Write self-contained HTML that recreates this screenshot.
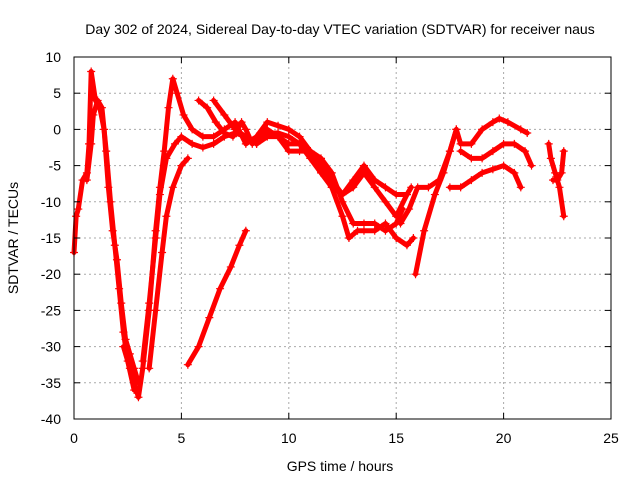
<!DOCTYPE html>
<html><head><meta charset="utf-8"><style>
body{margin:0;background:#fff}
svg{font-family:"Liberation Sans",sans-serif;font-size:14px}
</style></head><body>
<svg id="chart" width="640" height="480" viewBox="0 0 640 480">
<text x="340" y="34" text-anchor="middle" font-size="14">Day 302 of 2024, Sidereal Day-to-day VTEC variation (SDTVAR) for receiver naus</text>
<text x="340" y="471" text-anchor="middle">GPS time / hours</text>
<text transform="translate(18,238) rotate(-90)" text-anchor="middle">SDTVAR / TECUs</text>
<g id="grid"></g><g id="series"></g><g id="axes"></g>
</svg>
<script>
const xTicks=[0,5,10,15,20,25];
const yTicks=[10,5,0,-5,-10,-15,-20,-25,-30,-35,-40];
const track1=[[2.3,-30],[2.6,-33],[2.9,-36],[3.0,-37],[3.2,-33],[3.5,-25],[3.8,-14],[4.0,-8],[4.2,-3],[4.4,3],[4.6,7],[4.8,5],[5.1,2],[5.5,0],[6,-1],[6.5,-1],[7,0],[7.5,1],[8,-2],[8.5,-1],[9,1],[9.5,0.5],[10,0],[10.5,-1],[11,-3],[11.5,-5],[12,-7],[12.5,-9],[13,-8],[13.5,-6],[14,-8],[14.5,-10],[15,-12],[15.5,-9],[15.7,-8]];
const track2=[[3.2,-32],[3.5,-24],[3.8,-15],[4.0,-9],[4.3,-4],[4.7,-2],[5,-1],[5.5,-2],[6,-2.5],[6.5,-2],[7,-1],[7.5,-0.5],[8,-1],[8.5,-2],[9,-1],[9.5,-1],[10,-3],[10.5,-3],[11,-3],[11.5,-4],[12,-6],[12.5,-10],[13,-13],[13.5,-13],[14,-13],[14.5,-14],[15,-13],[15.3,-11]];
const track3=[[3.5,-33],[3.8,-25],[4.1,-17],[4.3,-12],[4.6,-8],[5,-5],[5.3,-4]];
const track4=[[5.8,4],[6.2,3],[6.6,1],[7,-0.5],[7.4,-1],[7.8,1],[8,0],[8.3,-2],[8.7,-1],[9,0],[9.5,-1],[10,-2],[10.5,-2],[11,-3],[11.5,-5],[12,-8],[12.5,-12],[12.8,-15],[13.2,-14],[13.5,-14],[14,-14],[14.5,-13],[15,-15],[15.5,-16],[15.8,-15]];
const track5=[[6.5,4],[7,2],[7.5,0],[8,-1],[8.5,-2],[9,-0.5],[9.5,-0.5],[10,-1],[10.5,-2],[11,-4],[11.5,-6],[12,-8],[12.5,-9],[13,-7],[13.5,-5],[14,-7],[14.5,-8],[15,-9],[15.5,-9]];
const track6=[[5.3,-32.5],[5.8,-30],[6.3,-26],[6.8,-22],[7.3,-19],[7.7,-16],[8.0,-14]];
const track7=[[0,-17],[0.1,-12],[0.2,-11],[0.4,-7],[0.6,-6],[0.7,-2],[0.8,8],[1.0,4],[1.2,3],[1.4,0],[1.6,-8],[1.8,-14],[2.0,-18],[2.2,-24],[2.4,-29],[2.6,-31],[2.8,-33],[3.0,-35]];
const track8=[[0.6,-7],[0.8,-2],[0.9,2],[1.1,4],[1.3,3],[1.5,-3],[1.7,-10],[1.9,-16],[2.1,-22],[2.3,-28],[2.5,-32],[2.8,-36]];
const track10=[[15.2,-13],[15.6,-11],[16,-8],[16.5,-8],[17,-7],[17.5,-3],[17.8,0],[18,-2],[18.5,-2],[19,0],[19.5,1],[19.8,1.5],[20.2,1],[20.8,0],[21.1,-0.5]];
const track11=[[18,-3],[18.5,-4],[19,-4],[19.5,-3],[20,-2],[20.5,-2],[21,-3],[21.3,-5]];
const track12=[[17.5,-8],[18,-8],[18.5,-7],[19,-6],[19.5,-5.5],[20,-5],[20.5,-6],[20.8,-8]];
const track13=[[15.9,-20],[16.3,-14],[16.8,-9],[17.2,-6],[17.5,-3],[17.8,0]];
const track14=[[22.1,-2],[22.2,-4],[22.4,-6],[22.6,-8],[22.8,-12]];
const track15=[[22.3,-7],[22.5,-7],[22.7,-6],[22.8,-3]];
const tracks=[track1,track2,track3,track4,track5,track6,track7,track8,track10,track11,track12,track13,track14,track15];
const X0=74,X1=611,Y0=419,Y1=57;
const xs=v=>X0+(v-0)/25*(X1-X0);
const ys=v=>Y0-(v+40)/50*(Y0-Y1);
const NS="http://www.w3.org/2000/svg";
const g=document.getElementById('grid'),s=document.getElementById('series'),a=document.getElementById('axes');
function mk(tag,attrs,parent){const e=document.createElementNS(NS,tag);for(const k in attrs)e.setAttribute(k,attrs[k]);parent.appendChild(e);return e;}
xTicks.forEach(t=>{
 const x=xs(t);
 if(t>0&&t<25){const l=mk('line',{x1:x,x2:x,y1:Y1,y2:Y0,stroke:'#aaa','stroke-dasharray':'2,3'},g);
 
 }
 mk('line',{x1:x,x2:x,y1:Y0,y2:Y0-6,stroke:'#000'},a);
 mk('line',{x1:x,x2:x,y1:Y1,y2:Y1+6,stroke:'#000'},a);
 const tx=mk('text',{x:x,y:Y0+24,'text-anchor':'middle'},a);tx.textContent=t;
 
 
});
yTicks.forEach(t=>{
 const y=ys(t);
 if(t>-40&&t<10){const l=mk('line',{x1:X0,x2:X1,y1:y,y2:y,stroke:'#aaa','stroke-dasharray':'2,3'},g);
 
 }
 mk('line',{x1:X0,x2:X0+6,y1:y,y2:y,stroke:'#000'},a);
 mk('line',{x1:X1,x2:X1-6,y1:y,y2:y,stroke:'#000'},a);
 const tx=mk('text',{x:X0-13,y:y+5,'text-anchor':'end'},a);tx.textContent=t;
 
 
});
const fr=mk('rect',{x:X0,y:Y1,width:X1-X0,height:Y0-Y1,fill:'none',stroke:'#000'},a);


tracks.forEach((tr,i)=>{
 const p=mk('polyline',{points:tr.map(d=>xs(d[0])+','+ys(d[1])).join(' '),fill:'none',stroke:'#f00','stroke-width':5,'stroke-linejoin':'round','stroke-linecap':'round'},s);
 
 
 tr.forEach(d=>{
  const x=xs(d[0]),y=ys(d[1]);
  const m=mk('path',{d:`M${x-4},${y}H${x+4}M${x},${y-4}V${y+4}`,stroke:'#f00','stroke-width':1.2},s);
  
  
 });
});
</script>
</body></html>
